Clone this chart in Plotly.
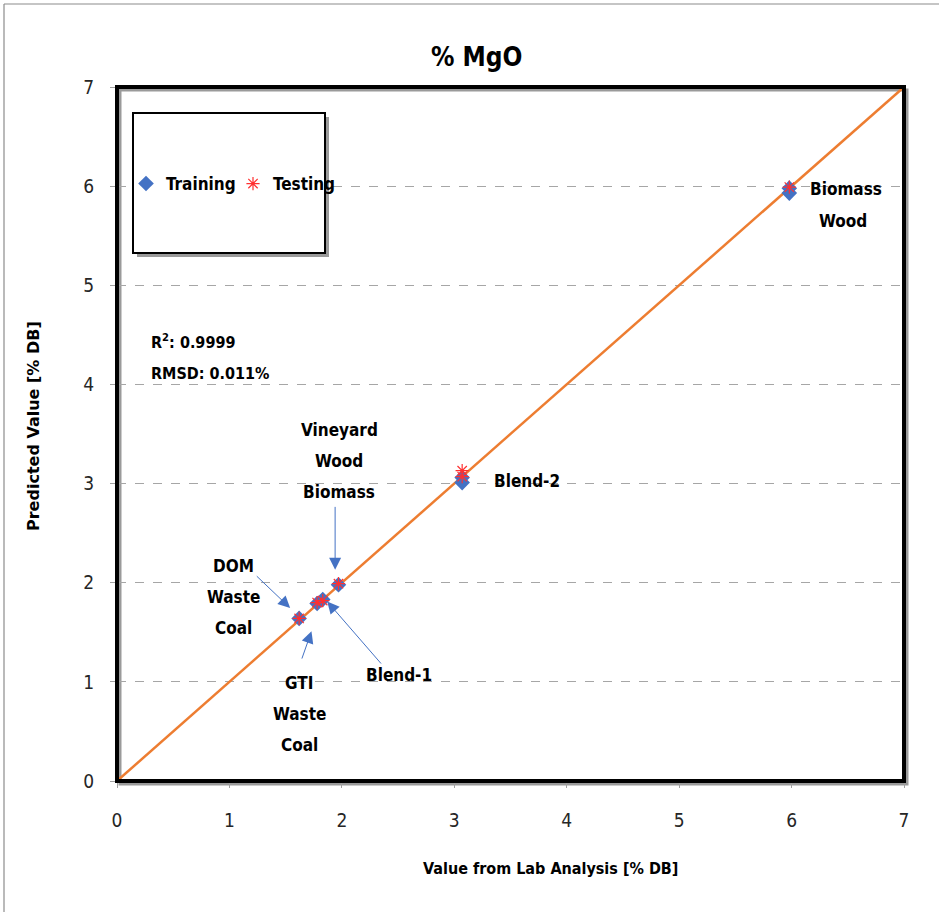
import plotly.graph_objects as go

# Measured vs predicted %MgO (dry basis)
train_lab = [1.62, 1.78, 1.83, 1.97, 3.07, 3.07, 5.98, 5.98]
train_pred = [1.64, 1.79, 1.83, 1.98, 3.06, 3.01, 5.98, 5.93]
test_lab = [1.62, 1.78, 1.83, 1.97, 3.07, 3.07, 5.98]
test_pred = [1.64, 1.80, 1.82, 1.99, 3.13, 3.07, 5.99]
parity = [0, 7]
tick_vals = [0, 1, 2, 3, 4, 5, 6, 7]

W, H = 939, 912
L, R, T, B = 117, 35, 87, 131
PW, PH = W - L - R, H - T - B

NARROW = "DejaVu Sans Condensed, Roboto, sans-serif"
BLUE = "#4472C4"
ORANGE = "#ED7D31"
RED = "#FF3030"


def px(x):
    return (x - L) / PW


def py(y):
    return (H - B - y) / PH


fig = go.Figure()

fig.add_trace(go.Scatter(
    x=parity, y=parity, mode="lines",
    line=dict(color=ORANGE, width=2.5),
    showlegend=False, hoverinfo="skip",
))
fig.add_trace(go.Scatter(
    x=train_lab, y=train_pred, mode="markers", name="Training",
    marker=dict(symbol="diamond", size=12, color=BLUE),
))
fig.add_trace(go.Scatter(
    x=test_lab, y=test_pred, mode="markers", name="Testing",
    marker=dict(symbol="asterisk-open", size=11, color=RED,
                line=dict(color=RED, width=1.2)),
))

shapes = []
# outer chart-area edges
shapes.append(dict(type="line", xref="paper", yref="paper",
                   x0=px(4), x1=px(W), y0=py(4), y1=py(4),
                   line=dict(color="#8C8C8C", width=1.2)))
shapes.append(dict(type="line", xref="paper", yref="paper",
                   x0=px(4), x1=px(4), y0=py(4), y1=py(H),
                   line=dict(color="#8C8C8C", width=1.2)))
# plot frame shadow + frame
shapes.append(dict(type="rect", xref="paper", yref="paper",
                   x0=px(L + 3), x1=px(W - R + 3), y0=py(H - B + 3), y1=py(T + 3),
                   line=dict(color="#9A9A9A", width=3), layer="below"))
shapes.append(dict(type="rect", xref="paper", yref="paper",
                   x0=0, x1=1, y0=0, y1=1,
                   line=dict(color="black", width=4)))
# legend box with shadow
shapes.append(dict(type="rect", xref="paper", yref="paper",
                   x0=px(137), x1=px(329), y0=py(257), y1=py(117),
                   fillcolor="#9A9A9A", line=dict(width=0)))
shapes.append(dict(type="rect", xref="paper", yref="paper",
                   x0=px(133), x1=px(325), y0=py(253), y1=py(113),
                   fillcolor="white", line=dict(color="black", width=2)))

annotations = []


def label(text, x, y, size=17, anchor="center", font=NARROW, **kw):
    annotations.append(dict(
        text=text, xref="paper", yref="paper", x=px(x), y=py(y),
        xanchor=anchor, yanchor="middle", showarrow=False,
        font=dict(family=font, size=size, color="black", weight="bold"), **kw))


def arrow(x_head, y_head, x_tail, y_tail):
    annotations.append(dict(
        text="", x=x_head, y=y_head, ax=x_tail, ay=y_tail,
        xref="x", yref="y", axref="x", ayref="y",
        showarrow=True, arrowhead=2, arrowsize=2.4, arrowwidth=1,
        arrowcolor=BLUE))


label("% MgO", 476, 57, size=26)
label("Value from Lab Analysis [% DB]", 550, 868, size=16)
label("Predicted Value [% DB]", 33, 426, size=16,
      font="DejaVu Sans, Verdana, sans-serif", textangle=-90)

label("R<sup>2</sup>: 0.9999", 149, 341, size=16, anchor="left")
label("RMSD: 0.011%", 149, 373, size=16, anchor="left")

for i, line in enumerate(["Vineyard", "Wood", "Biomass"]):
    label(line, 339, 430 + 31 * i)
for i, line in enumerate(["DOM", "Waste", "Coal"]):
    label(line, 233, 566 + 31 * i)
for i, line in enumerate(["GTI", "Waste", "Coal"]):
    label(line, 299, 683 + 31 * i)
label("Blend-1", 364, 675, anchor="left")
label("Blend-2", 492, 481, anchor="left")
label("Biomass", 808, 189, anchor="left")
label("Wood", 817, 221, anchor="left")

# callout arrows (head at the point, tail near its label)
arrow(1.94, 2.13, 1.94, 2.78)
arrow(1.54, 1.745, 1.23, 2.08)
arrow(1.73, 1.51, 1.64, 1.22)
arrow(1.87, 1.81, 2.36, 1.17)

axis_common = dict(
    range=[0, 7], tickvals=tick_vals, showline=False, zeroline=False,
    ticks="outside", ticklen=6, tickcolor="#A0A0A0", tickwidth=1,
    tickfont=dict(family=NARROW, size=19, color="#262626"),
)

fig.update_layout(
    width=W, height=H,
    margin=dict(l=L, r=R, t=T, b=B, autoexpand=False),
    paper_bgcolor="white", plot_bgcolor="white",
    xaxis=dict(showgrid=False, ticklabelstandoff=16, **axis_common),
    yaxis=dict(showgrid=True, gridcolor="#A6A6A6", griddash="dash",
               gridwidth=1, ticklabelstandoff=12, **axis_common),
    showlegend=True,
    legend=dict(
        orientation="h", x=px(126), y=py(184), xanchor="left", yanchor="middle",
        bgcolor="rgba(0,0,0,0)", borderwidth=0, entrywidth=62,
        font=dict(family=NARROW, size=17, color="black", weight="bold"),
    ),
    shapes=shapes, annotations=annotations,
)

fig.write_html("out.html")
